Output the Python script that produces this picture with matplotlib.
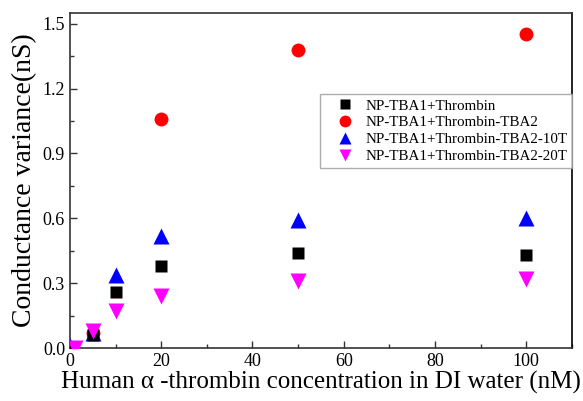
import matplotlib
matplotlib.use("Agg")
import matplotlib.pyplot as plt
from matplotlib.ticker import MultipleLocator

plt.rcParams['font.family'] = ['Liberation Serif', 'DejaVu Serif']
plt.rcParams['mathtext.fontset'] = 'stix'

x_black = [0, 5, 10, 20, 50, 100]
y_black = [0.0, 0.06, 0.26, 0.38, 0.44, 0.43]
x_red = [0, 5, 20, 50, 100]
y_red = [0.0, 0.07, 1.06, 1.38, 1.45]
x_blue = [0, 5, 10, 20, 50, 100]
y_blue = [0.01, 0.07, 0.34, 0.52, 0.59, 0.60]
x_mag = [1, 5, 10, 20, 50, 100]
y_mag = [0.0, 0.08, 0.17, 0.24, 0.31, 0.32]

labels = ['NP-TBA1+Thrombin', 'NP-TBA1+Thrombin-TBA2',
          'NP-TBA1+Thrombin-TBA2-10T', 'NP-TBA1+Thrombin-TBA2-20T']

fig = plt.figure(figsize=(5.83, 4.01), dpi=100)
ax = fig.add_axes([0.12, 0.132, 0.861, 0.836])

ax.plot(x_red, y_red, 'o', color='#ff0000', ms=10, mec='none', label=labels[1], zorder=2)
ax.plot(x_blue, y_blue, '^', color='#0000ff', ms=11, mec='none', label=labels[2], zorder=3)
ax.plot(x_black, y_black, 's', color='black', ms=9, mec='none', label=labels[0], zorder=4)
ax.plot(x_mag, y_mag, 'v', color='#ff00ff', ms=11, mec='none', label=labels[3], zorder=5)

ax.set_xlim(0, 110)
ax.set_ylim(0, 1.55)
ax.xaxis.set_major_locator(MultipleLocator(20))
ax.xaxis.set_minor_locator(MultipleLocator(10))
ax.yaxis.set_major_locator(MultipleLocator(0.3))
ax.yaxis.set_minor_locator(MultipleLocator(0.15))
ax.yaxis.set_major_formatter(matplotlib.ticker.FormatStrFormatter('%.1f'))
ax.tick_params(which='both', direction='in', top=False, right=False, labelsize=13, color='#333333')
ax.tick_params(which='major', length=5, width=1)
ax.tick_params(which='minor', length=3, width=1)
for s in ax.spines.values():
    s.set_linewidth(1.2)
    s.set_color('#333333')
ax.spines['right'].set_color('black')

ax.set_xlabel('Human α -thrombin concentration in DI water (nM)', fontsize=18, labelpad=1)
ax.set_ylabel('Conductance variance(nS)', fontsize=20, labelpad=4)

handles, labs = ax.get_legend_handles_labels()
order = [labs.index(l) for l in labels]
leg = ax.legend([handles[i] for i in order], [labs[i] for i in order],
                loc='upper left', bbox_to_anchor=(0.549, 0.766), bbox_transform=fig.transFigure,
                fontsize=10.8, frameon=True, fancybox=False, edgecolor='#999999',
                borderpad=0.35, labelspacing=0.22, handlelength=2.6, handletextpad=0.05,
                borderaxespad=0, markerscale=0.85)
leg.get_frame().set_linewidth(1)

fig.savefig('out.png', dpi=100)
